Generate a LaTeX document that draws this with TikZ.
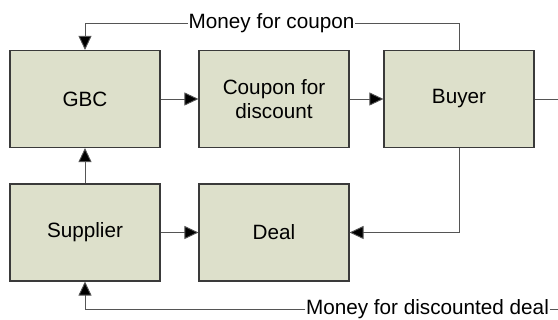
\documentclass[tikz,border=0pt]{standalone}
\usepackage{fontspec}
\setmainfont{Liberation Sans}
\usetikzlibrary{arrows.meta}
\definecolor{boxfill}{HTML}{DDE0CB}
\definecolor{boxline}{HTML}{3A3A3A}
\definecolor{conn}{HTML}{555555}
\begin{document}
\begin{tikzpicture}[x=1pt,y=-1pt,
  blk/.style={draw=boxline,fill=boxfill,line width=1.1pt,minimum width=150pt,minimum height=97pt,inner sep=0pt,align=center,font=\fontsize{20.7}{23.4}\selectfont},
  lbl/.style={inner sep=0.5pt,font=\fontsize{20.7}{23.4}\selectfont},
  cn/.style={draw=conn,line width=0.9pt},
  arr/.style={cn,-{Triangle[length=14pt,width=13pt,fill=black]}}]
\useasboundingbox (0,0) rectangle (558,320);
\node[blk] (gbc) at (85,99) {GBC};
\node[blk] (coupon) at (274,99) {Coupon for\\discount};
\node[blk] (buyer) at (459,99) {Buyer};
\node[blk] (supplier) at (85,232.5) {Supplier};
\node[blk] (deal) at (274,232.5) {Deal};
\node[lbl] (lcoupon) at (271.5,23) {Money for coupon};
\node[lbl] (ldeal) at (427.5,309) {Money for discounted deal};
\coordinate (rbuy) at (558,99);
\coordinate (rbot) at (558,309);
\draw[arr] (gbc) -- (coupon);
\draw[arr] (coupon) -- (buyer);
\draw[arr] (supplier) -- (deal);
\draw[arr] (supplier) -- (gbc);
\draw[cn] (buyer) -- (rbuy);
\draw[arr] (buyer.south) |- (deal.east);
\draw[cn] (buyer.north) |- (lcoupon.east);
\draw[arr] (lcoupon.west) -| (gbc.north);
\draw[cn] (rbot) -- (ldeal.east);
\draw[arr] (ldeal.west) -| (supplier.south);
\end{tikzpicture}
\end{document}
